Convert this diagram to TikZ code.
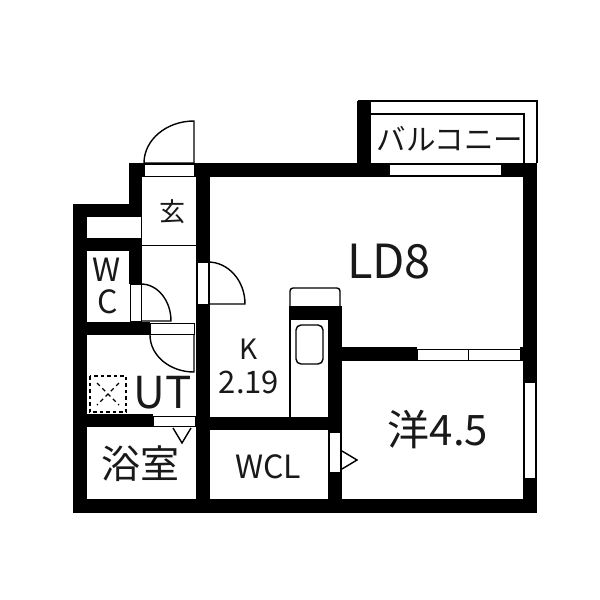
\documentclass[tikz,border=0pt]{standalone}
\usepackage{fontspec}
\setmainfont{Noto Sans CJK JP}
\tikzset{
  wall/.style={fill=black,draw=none},
  pane/.style={fill=white,draw=black,line width=0.8pt},
  thin line/.style={draw=black,line width=1pt},
  swing/.style={draw=black,line width=1.4pt},
  label/.style={inner sep=0pt,anchor=center,text=black!90}
}
\begin{document}
\begin{tikzpicture}[x=1pt,y=-1pt]
  \useasboundingbox[fill=white] (0,0) rectangle (600,600);
  % rooms lines first
  \draw[thin line] (142,245) -- (196,245) (141,217) -- (141,238) (141,284) -- (141,321);
  \draw[swing] (358,101) -- (537,101) -- (537,163) (370,114) -- (524,114) -- (524,163);
  \draw[swing] (290,417) -- (290,320);
  \draw[swing,rounded corners=3pt] (290,306) -- (290,288) -- (340,288) -- (340,306);
  \draw[swing,rounded corners=5pt] (296,325) rectangle (323,364);
  % walls
  \foreach \xa/\ya/\xb/\yb in {
    73/204/87/513, 73/204/142/217, 129/163/142/217, 129/163/537/177,
    357/101/371/177, 523/163/537/513, 73/499/537/513,
    196/163/210/513, 87/238/142/251, 129/238/142/284, 73/322/150/335,
    73/414/153/427, 196/417/342/430, 328/306/342/513, 289/306/342/320,
    342/347/417/361, 520/347/523/361}
    \fill[wall] (\xa,\ya) rectangle (\xb,\yb);
  % openings in the walls
  \foreach \xa/\ya/\xb/\yb in {
    144/164/194/176, 197/262/208/304, 130/284/141/321,
    150/323/194/334, 153/416/195/426, 329/432/340/472, 417/349/468/360,
    468/349/520/360, 524/382/535/478}
    \filldraw[pane] (\xa,\ya) rectangle (\xb,\yb);
  \fill[white] (390,165) rectangle (501,175);
  % doors
  \draw[swing] (194,163) -- (194,121) arc[start angle=90,end angle=180,x radius=50,y radius=-42] -- cycle;
  \draw[swing] (208,262) arc[start angle=90,end angle=0,x radius=37,y radius=-42] -- (208,304);
  \draw[swing] (141,284) arc[start angle=90,end angle=0,x radius=30,y radius=-37] -- (141,321);
  \draw[swing] (194,335) -- (194,372) arc[start angle=270,end angle=180,x radius=44,y radius=-37];
  \draw[swing] (173,428) -- (182,443) -- (191,428);
  \draw[swing] (342,451) -- (357,460) -- (342,469);
  % floor drain
  \draw[line width=1.4pt,dash pattern=on 3.5pt off 3pt] (90,376) rectangle (126,412);
  \draw[line width=1.4pt,dash pattern=on 4pt off 3.5pt] (97,383) -- (119,405) (119,383) -- (97,405);
  % labels
  \node[label,font=\fontsize{29.5}{29.5}\selectfont] (balcony) at (450,139) {バルコニー};
  \node[label,font=\fontsize{26}{26}\selectfont] (genkan) at (172,212) {玄};
  \node[label,font=\fontsize{32}{32}\selectfont] (wcw) at (107,270) {W};
  \node[label,font=\fontsize{32}{32}\selectfont] (wcc) at (108,302) {C};
  \node[label,font=\fontsize{47}{47}\selectfont] (ld) at (389,262) {LD8};
  \node[label,font=\fontsize{28}{28}\selectfont] (kit) at (249,349) {K};
  \node[label,font=\fontsize{31}{31}\selectfont] (kitsize) at (249,382) {2.19};
  \node[label,font=\fontsize{44}{44}\selectfont] (ut) at (163,393) {UT};
  \node[label,font=\fontsize{39}{39}\selectfont] (bath) at (140,464) {浴室};
  \node[label,font=\fontsize{32}{32}\selectfont] (wcl) at (268,467) {WCL};
  \node[label,font=\fontsize{42}{42}\selectfont] (western) at (438,430) {洋4.5};
\end{tikzpicture}
\end{document}
